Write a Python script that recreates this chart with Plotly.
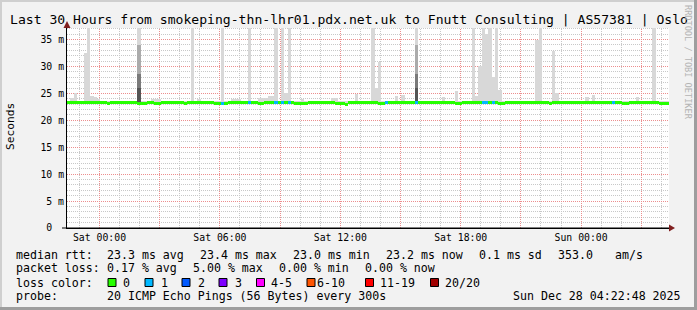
import math
import plotly.graph_objects as go
import pandas as pd

# ---------------- data ----------------
t_start = "2025-12-26 22:22:48"
t_end = "2025-12-28 04:22:48"
step_minutes = 10

median_ms = [
    23.3, 23.3, 23.3, 23.3, 23.4, 23.4, 23.3, 23.3, 23.3, 23.3, 23.3, 23.3, 23.2, 23.3, 23.3, 23.3, 23.3, 23.3, 23.3, 23.3,
    23.3, 23.1, 23.1, 23.1, 23.3, 23.3, 23.1, 23.1, 23.3, 23.4, 23.4, 23.3, 23.3, 23.3, 23.3, 23.2, 23.3, 23.3, 23.3, 23.3,
    23.3, 23.3, 23.3, 23.3, 23.2, 23.1, 23.1, 23.1, 23.3, 23.3, 23.3, 23.3, 23.3, 23.3, 23.3, 23.3, 23.3, 23.1, 23.1, 23.3,
    23.4, 23.3, 23.3, 23.3, 23.3, 23.3, 23.3, 23.3, 23.2, 23.1, 23.1, 23.1, 23.3, 23.3, 23.3, 23.3, 23.3, 23.3, 23.3, 23.3,
    23.2, 23.1, 23.1, 23.0, 23.3, 23.3, 23.3, 23.3, 23.3, 23.3, 23.3, 23.3, 23.3, 23.2, 23.1, 23.3, 23.3, 23.3, 23.3, 23.3,
    23.3, 23.3, 23.3, 23.3, 23.3, 23.3, 23.3, 23.3, 23.3, 23.3, 23.3, 23.3, 23.3, 23.3, 23.3, 23.3, 23.2, 23.1, 23.3, 23.3,
    23.3, 23.3, 23.3, 23.3, 23.3, 23.3, 23.3, 23.3, 23.3, 23.2, 23.1, 23.3, 23.3, 23.3, 23.3, 23.3, 23.3, 23.3, 23.3, 23.3,
    23.3, 23.3, 23.3, 23.3, 23.1, 23.3, 23.3, 23.3, 23.3, 23.3, 23.3, 23.3, 23.3, 23.3, 23.3, 23.3, 23.3, 23.3, 23.3, 23.3,
    23.3, 23.3, 23.3, 23.3, 23.3, 23.3, 23.2, 23.1, 23.3, 23.3, 23.3, 23.3, 23.3, 23.3, 23.3, 23.3, 23.3, 23.1, 23.2, 23.2,
]

smoke_top_ms = [
    23.5, 24.2, 25.0, 23.6, 23.5, 32.6, 40.0, 24.6, 24.3, 24.0, 23.6, 23.5, 23.5, 23.6, 23.5, 23.5, 23.5, 23.5, 23.6, 23.5,
    23.6, 40.0, 23.6, 23.5, 23.5, 24.0, 24.0, 24.0, 23.5, 23.6, 23.5, 23.5, 23.5, 23.6, 23.5, 23.5, 23.5, 40.0, 23.6, 24.0,
    23.5, 23.5, 23.5, 23.6, 23.5, 23.5, 40.0, 23.6, 23.5, 24.0, 24.0, 24.0, 23.5, 23.5, 40.0, 23.6, 23.5, 24.2, 24.2, 24.2,
    24.5, 24.5, 40.0, 23.6, 40.0, 25.0, 40.0, 23.6, 23.5, 23.5, 24.0, 23.5, 23.5, 23.6, 23.5, 23.5, 23.5, 23.5, 23.5, 24.2,
    24.2, 23.5, 23.5, 23.5, 23.5, 23.6, 24.8, 23.5, 23.5, 23.5, 23.6, 40.0, 26.0, 30.9, 23.6, 23.5, 23.5, 23.5, 24.5, 23.6,
    24.7, 23.5, 23.5, 23.6, 40.0, 23.6, 23.5, 23.5, 23.5, 23.5, 23.5, 23.6, 24.3, 23.5, 23.5, 23.5, 25.4, 23.6, 23.5, 23.5,
    23.6, 40.0, 24.5, 30.0, 40.0, 36.0, 40.0, 28.0, 40.0, 25.7, 23.6, 23.5, 23.5, 23.5, 23.5, 23.6, 23.5, 23.5, 23.5, 23.6,
    35.0, 40.0, 23.6, 23.5, 23.5, 32.8, 25.0, 23.6, 23.5, 23.5, 23.5, 23.5, 23.5, 23.5, 23.5, 24.3, 23.5, 24.7, 23.5, 23.5,
    23.5, 23.6, 23.5, 23.5, 23.5, 23.5, 23.5, 23.5, 23.5, 23.5, 24.3, 23.5, 23.5, 23.5, 23.5, 40.0, 23.6, 23.5, 23.5, 23.5,
]

loss_count = [
    0, 0, 0, 0, 0, 0, 0, 0, 0, 0, 0, 0, 0, 0, 0, 0, 0, 0, 0, 0,
    0, 0, 0, 0, 0, 0, 0, 0, 0, 0, 0, 0, 0, 0, 0, 0, 0, 0, 0, 0,
    0, 0, 0, 0, 0, 0, 1, 0, 0, 0, 0, 0, 0, 0, 1, 0, 0, 0, 0, 0,
    0, 0, 1, 0, 1, 0, 1, 0, 0, 0, 0, 0, 0, 0, 0, 0, 0, 0, 0, 0,
    0, 0, 0, 0, 0, 0, 0, 0, 0, 0, 0, 0, 0, 0, 0, 1, 0, 0, 0, 0,
    0, 0, 0, 0, 1, 0, 0, 0, 0, 0, 0, 0, 0, 0, 0, 0, 0, 0, 0, 0,
    0, 0, 0, 0, 1, 1, 0, 1, 0, 0, 0, 0, 0, 0, 0, 0, 0, 0, 0, 0,
    0, 0, 0, 0, 0, 0, 0, 0, 0, 0, 0, 0, 0, 0, 0, 0, 0, 0, 0, 0,
    0, 0, 0, 1, 0, 0, 0, 0, 0, 0, 0, 0, 0, 0, 0, 0, 0, 0, 0, 0,
]

# darker smoke inside the two dense bursts
dark_index = [21, 104]
dark_mid_ms = [34.0, 34.0]
dark_low_ms = [28.6, 28.6]
dark_base_ms = [26.0, 26.0]

loss_labels = ["0", "1", "2", "3", "4-5", "6-10", "11-19", "20/20"]
loss_colors = ["#26ff00", "#00b8ff", "#0059ff", "#7e00ff", "#ff00ff", "#ff5500", "#ff0000", "#a10000"]
loss_upper = [0, 1, 2, 3, 5, 10, 19, 20]

y_tickvals = [0, 5, 10, 15, 20, 25, 30, 35]
y_ticktext = ["0\u00a0\u00a0", "5 m", "10 m", "15 m", "20 m", "25 m", "30 m", "35 m"]
x_tickvals = ["2025-12-27 00:00", "2025-12-27 03:00", "2025-12-27 06:00", "2025-12-27 09:00",
              "2025-12-27 12:00", "2025-12-27 15:00", "2025-12-27 18:00", "2025-12-27 21:00",
              "2025-12-28 00:00", "2025-12-28 03:00"]
x_ticktext = ["Sat 00:00", "", "Sat 06:00", "", "Sat 12:00", "", "Sat 18:00", "", "Sun 00:00", ""]
minor_grid_hours = 1      # minor vertical grid step (h)
minor_grid_ms = 1         # minor horizontal grid step (ms)

title_text = "Last 30 Hours from smokeping-thn-lhr01.pdx.net.uk to Fnutt Consulting | AS57381 | Oslo"
legend_rows = [
    [(16, "median rtt:"), (107, "23.3 ms avg"), (200, "23.4 ms max"), (293, "23.0 ms min"),
     (386, "23.2 ms now"), (479, "0.1 ms sd"), (558, "353.0"), (615, "am/s")],
    [(16, "packet loss:"), (107, "0.17 % avg"), (193, "5.00 % max"), (279, "0.00 % min"), (365, "0.00 % now")],
    [(16, "loss color:")],
    [(16, "probe:"), (107, "20 ICMP Echo Pings (56 Bytes) every 300s"), (513, "Sun Dec 28 04:22:48 2025")],
]
legend_row_y = [255, 268.3, 282.5, 296]
loss_box_x = [108, 145, 182, 219, 256.5, 307, 365.5, 430.5]
loss_text_x = [123, 160.5, 198, 235, 270.5, 317, 380, 445]

# ---------------- geometry ----------------
W, H = 697, 310
L, R, T, B = 67, 669, 28, 228
PW, PH = R - L, B - T
Y_MAX = 37.15


def fx(px):
    return (px - L) / PW


def fy(py):
    return (B - py) / PH


MONO = "DejaVu Sans Mono"
MAJOR = "#ec8e8e"
MINOR = "#c8c8c8"
DOTS = "1px,1px"
bin_ms = step_minutes * 60 * 1000
times = pd.date_range(t_start, periods=len(median_ms), freq=f"{step_minutes}min") + pd.Timedelta(minutes=step_minutes / 2)

T0, T1 = pd.Timestamp(t_start), pd.Timestamp(t_end)
SPAN = (T1 - T0).total_seconds()


def crisp_time(t):
    """snap a grid time onto a pixel centre so the 1px dotted line stays sharp"""
    p = L + (t - T0).total_seconds() / SPAN * PW
    pc = math.floor(p) + 0.5
    return (T0 + pd.Timedelta(seconds=(pc - L) / PW * SPAN)).strftime("%Y-%m-%d %H:%M:%S.%f")


def crisp_val(v):
    p = B - v / Y_MAX * PH
    pc = math.floor(p) + 0.5
    return (B - pc) / PH * Y_MAX


major_x = [pd.Timestamp(v) for v in x_tickvals]
minor_x = [t for t in pd.date_range(T0.ceil("h"), T1, freq=f"{minor_grid_hours}h") if t not in major_x]
minor_y = [v for v in range(minor_grid_ms, int(Y_MAX) + 1, minor_grid_ms) if v not in y_tickvals]


def loss_color(n):
    for up, c in zip(loss_upper, loss_colors):
        if n <= up:
            return c
    return loss_colors[-1]


fig = go.Figure()

# light smoke
fig.add_trace(go.Bar(
    x=times, base=median_ms, y=[t - m for t, m in zip(smoke_top_ms, median_ms)],
    width=bin_ms, marker=dict(color="#d8d8d8", line=dict(width=0)), hoverinfo="skip", showlegend=False))

dark_times = [times[i] for i in dark_index]
dark_base = [median_ms[i] for i in dark_index]
for tops, col in [(dark_mid_ms, "#ababab"), (dark_low_ms, "#7a7a7a"), (dark_base_ms, "#555555")]:
    fig.add_trace(go.Bar(
        x=dark_times, base=dark_base, y=[t - b for t, b in zip(tops, dark_base)],
        width=bin_ms, marker=dict(color=col, line=dict(width=0)), hoverinfo="skip", showlegend=False))

# median line coloured by loss
half = 1.5 * Y_MAX / PH
fig.add_trace(go.Bar(
    x=times, base=[m - half for m in median_ms], y=[2 * half] * len(median_ms),
    width=bin_ms, marker=dict(color=[loss_color(n) for n in loss_count], line=dict(width=0)),
    hoverinfo="skip", showlegend=False))

tickfont = dict(family=MONO, size=9.8, color="black")
fig.update_layout(
    width=W, height=H, margin=dict(l=L, r=W - R, t=T, b=H - B, pad=0),
    paper_bgcolor="#f2f2f2", plot_bgcolor="white",
    barmode="overlay", bargap=0, showlegend=False,
    xaxis=dict(
        type="date", range=[t_start, t_end], tickmode="array", tickvals=x_tickvals, ticktext=x_ticktext,
        showgrid=False, showline=True, linecolor="black", linewidth=1, zeroline=False, ticks="",
        tickfont=tickfont, fixedrange=True),
    yaxis=dict(
        range=[0, Y_MAX], tickmode="array", tickvals=y_tickvals, ticktext=y_ticktext,
        showgrid=False, showline=True, linecolor="black", linewidth=1, zeroline=False, ticks="",
        tickfont=tickfont, fixedrange=True),
)

shapes = []
# grid: minor (grey) first, then major (red); all under the data
for t in minor_x:
    xc = crisp_time(t)
    shapes.append(dict(type="line", xref="x", yref="paper", x0=xc, x1=xc, y0=0, y1=1, layer="between",
                       line=dict(color=MINOR, width=1, dash=DOTS)))
for v in minor_y:
    yc = crisp_val(v)
    shapes.append(dict(type="line", xref="paper", yref="y", x0=0, x1=1, y0=yc, y1=yc, layer="between",
                       line=dict(color=MINOR, width=1, dash=DOTS)))
for t in major_x:
    xc = crisp_time(t)
    shapes.append(dict(type="line", xref="x", yref="paper", x0=xc, x1=xc, y0=0, y1=1, layer="between",
                       line=dict(color=MAJOR, width=1, dash=DOTS)))
for v in y_tickvals[1:]:
    yc = crisp_val(v)
    shapes.append(dict(type="line", xref="paper", yref="y", x0=0, x1=1, y0=yc, y1=yc, layer="between",
                       line=dict(color=MAJOR, width=1, dash=DOTS)))
# axis arrows
shapes.append(dict(type="path", xref="paper", yref="paper",
                   path=f"M {fx(63.5)} {fy(28)} L {fx(70.5)} {fy(28)} L {fx(67)} {fy(21)} Z",
                   fillcolor="#801f1f", line=dict(width=0)))
shapes.append(dict(type="path", xref="paper", yref="paper",
                   path=f"M {fx(669)} {fy(224.5)} L {fx(669)} {fy(231.5)} L {fx(675)} {fy(228)} Z",
                   fillcolor="#801f1f", line=dict(width=0)))
shapes.append(dict(type="line", xref="paper", yref="paper", x0=fx(62), x1=fx(669), y0=0, y1=0,
                   line=dict(color="black", width=1)))
# image frame
shapes.append(dict(type="line", xref="paper", yref="paper", x0=fx(0), x1=fx(697), y0=fy(1), y1=fy(1),
                   line=dict(color="#cfcfcf", width=2)))
shapes.append(dict(type="line", xref="paper", yref="paper", x0=fx(1), x1=fx(1), y0=fy(0), y1=fy(310),
                   line=dict(color="#cfcfcf", width=2)))
shapes.append(dict(type="line", xref="paper", yref="paper", x0=fx(695.5), x1=fx(695.5), y0=fy(0), y1=fy(310),
                   line=dict(color="#9e9e9e", width=3)))
shapes.append(dict(type="line", xref="paper", yref="paper", x0=fx(0), x1=fx(697), y0=fy(308.5), y1=fy(308.5),
                   line=dict(color="#9e9e9e", width=3)))
# loss colour boxes
for bx, col in zip(loss_box_x, loss_colors):
    shapes.append(dict(type="rect", xref="paper", yref="paper",
                       x0=fx(bx), x1=fx(bx + 8), y0=fy(278.5), y1=fy(286.5),
                       fillcolor=col, line=dict(color="black", width=1)))
fig.update_layout(shapes=shapes)

ann = []
ann.append(dict(text=title_text, x=fx(348.5), y=fy(19), xref="paper", yref="paper",
                xanchor="center", yanchor="middle", showarrow=False,
                font=dict(family=MONO, size=13.1, color="black")))
ann.append(dict(text="Seconds", x=fx(10), y=fy(127), xref="paper", yref="paper", textangle=-90,
                xanchor="center", yanchor="middle", showarrow=False,
                font=dict(family=MONO, size=11.2, color="black")))
ann.append(dict(text="RRDTOOL / TOBI OETIKER", x=fx(688), y=fy(62), xref="paper", yref="paper", textangle=90,
                xanchor="center", yanchor="middle", showarrow=False,
                font=dict(family=MONO, size=8.6, color="#b4b4b4")))
for row, ry in zip(legend_rows, legend_row_y):
    for lx, txt in row:
        ann.append(dict(text=txt.replace(" ", "\u00a0"), x=fx(lx - 0.8), y=fy(ry), xref="paper", yref="paper",
                        xanchor="left", yanchor="middle", showarrow=False, borderpad=0,
                        font=dict(family=MONO, size=11.6, color="black")))
for lx, txt in zip(loss_text_x, loss_labels):
    ann.append(dict(text=txt, x=fx(lx - 0.8), y=fy(legend_row_y[2]), xref="paper", yref="paper",
                    xanchor="left", yanchor="middle", showarrow=False, borderpad=0,
                    font=dict(family=MONO, size=11.6, color="black")))
fig.update_layout(annotations=ann)

fig.write_html("out.html")
